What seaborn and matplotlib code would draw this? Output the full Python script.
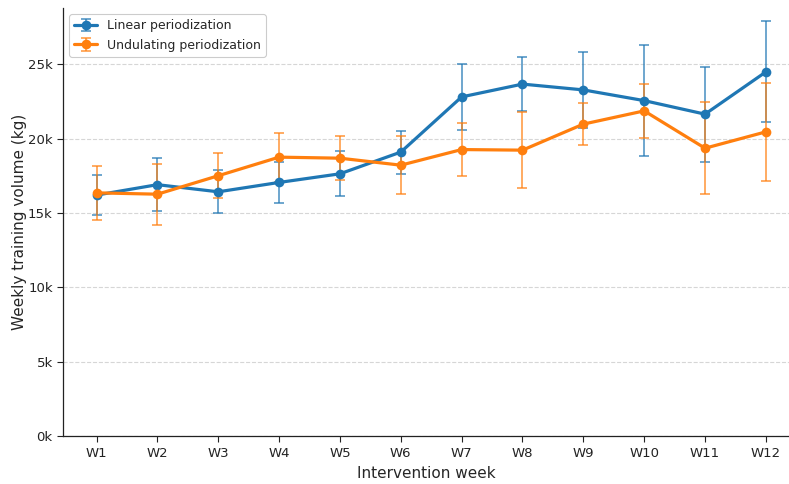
import numpy as np
import pandas as pd
import matplotlib
matplotlib.use("Agg")
import matplotlib.pyplot as plt
import seaborn as sns
from matplotlib.ticker import FuncFormatter, MultipleLocator

# Weekly training volume (kg), mean and SD per week
weeks = [f"W{i}" for i in range(1, 13)]
linear_mean = [16200, 16900, 16420, 17050, 17630, 19090, 22800, 23660, 23270, 22550, 21640, 24480]
linear_sd = [1350, 1800, 1450, 1370, 1500, 1450, 2200, 1800, 2550, 3750, 3200, 3400]
undulating_mean = [16350, 16260, 17500, 18750, 18680, 18210, 19260, 19220, 20970, 21860, 19350, 20450]
undulating_sd = [1800, 2050, 1500, 1650, 1480, 1950, 1800, 2550, 1400, 1830, 3100, 3300]

series_names = ["Linear periodization", "Undulating periodization"]
colors = ["#1f77b4", "#ff7f0e"]

df = pd.DataFrame({
    "Week": weeks * 2,
    "idx": list(range(12)) * 2,
    "Volume": linear_mean + undulating_mean,
    "SD": linear_sd + undulating_sd,
    "Program": [series_names[0]] * 12 + [series_names[1]] * 12,
})

sns.set_theme(style="ticks")
plt.rcParams["font.family"] = ["DejaVu Sans"]

fig = plt.figure(figsize=(7.89, 4.84), dpi=100)
ax = fig.add_axes([0.08, 0.099, 0.92, 0.884])

handles = []
for name, col in zip(series_names, colors):
    sub = df[df["Program"] == name]
    eb = ax.errorbar(sub["idx"], sub["Volume"], yerr=sub["SD"], fmt="none",
                     ecolor=col, elinewidth=1.3, capsize=3.5, capthick=1.3,
                     alpha=0.7, zorder=2)
    sns.lineplot(data=sub, x="idx", y="Volume", color=col, marker="o",
                 markersize=7, markeredgewidth=0, linewidth=2.3, ax=ax,
                 legend=False, zorder=3)
    line = ax.lines[-1]
    handles.append((eb, line))

ax.set_xlim(-0.55, 11.38)
ax.set_ylim(0, 28760)
ax.set_xticks(range(12))
ax.set_xticklabels(weeks)
ax.yaxis.set_major_locator(MultipleLocator(5000))
ax.yaxis.set_major_formatter(FuncFormatter(lambda v, p: f"{int(v / 1000)}k"))
ax.tick_params(axis="both", labelsize=9.5, length=4, width=0.8, colors="#222222")
ax.yaxis.grid(True, linestyle="--", color="#cccccc", linewidth=0.8, alpha=0.8)
ax.set_axisbelow(True)
sns.despine(ax=ax)
for s in ["left", "bottom"]:
    ax.spines[s].set_color("#222222")
    ax.spines[s].set_linewidth(0.9)

ax.set_xlabel("Intervention week", fontsize=11, labelpad=5)
ax.set_ylabel("Weekly training volume (kg)", fontsize=11, labelpad=1)

leg = ax.legend(handles, series_names, loc="upper left", fontsize=9,
                frameon=True, framealpha=1, edgecolor="#cccccc",
                borderaxespad=0.5, handlelength=1.8)
leg.get_frame().set_linewidth(0.8)

fig.savefig("out.png", dpi=100)
